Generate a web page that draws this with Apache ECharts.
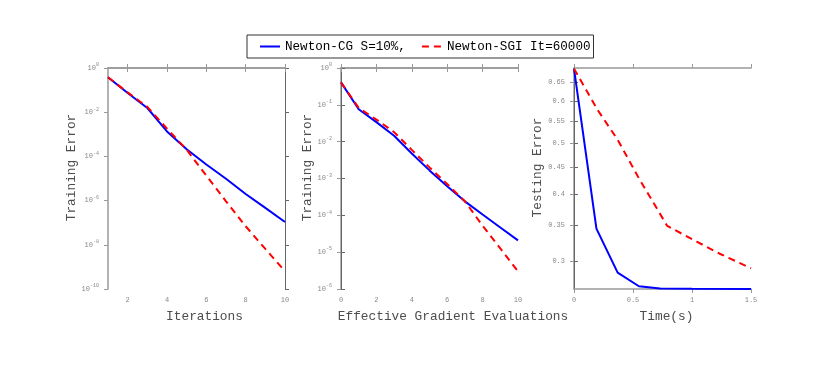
<!DOCTYPE html>
<html>
<head>
<meta charset="utf-8">
<script src="https://cdn.jsdelivr.net/npm/echarts@6/dist/echarts.min.js"></script>
<style>
html, body { margin: 0; padding: 0; background: #fff; }
#chart { width: 830px; height: 371px; }
</style>
</head>
<body>
<div id="chart"></div>
<script>
// panel 1: training error vs iterations
const iterX = [1, 2, 3, 4, 5, 6, 7, 8, 9, 10]
const cgIterErr = [3.8e-1, 7.4e-2, 1.55e-2, 1.35e-3, 2.1e-4, 4.3e-5, 9.8e-6, 2.0e-6, 4.7e-7, 1.07e-7]
const sgiIterErr = [3.8e-1, 7.9e-2, 1.74e-2, 1.8e-3, 2.0e-4, 1.35e-5, 9.3e-7, 6.9e-8, 6.5e-9, 6.3e-10]

// panel 2: training error vs effective gradient evaluations
const evalX = [0, 1, 2, 3, 4, 5, 6, 7, 8, 9, 10]
const cgEvalErr = [0.407, 0.0759, 0.0339, 0.01445, 4.79e-3, 1.66e-3, 6.17e-4, 2.4e-4, 1.05e-4, 4.68e-5, 2.09e-5]
const sgiEvalErr = [0.407, 0.083, 0.0398, 0.0182, 6.0e-3, 2.0e-3, 7.1e-4, 2.4e-4, 5.2e-5, 1.26e-5, 3.0e-6]

// panel 3: testing error vs time (s)
const cgTime = [0, 0.19, 0.37, 0.55, 0.73, 1.0, 1.5]
const cgTestErr = [0.69, 0.345, 0.285, 0.2687, 0.2662, 0.2657, 0.2655]
const sgiTime = [0, 0.2, 0.37, 0.55, 0.79, 1.04, 1.24, 1.5]
const sgiTestErr = [0.69, 0.577, 0.507, 0.429, 0.349, 0.326, 0.309, 0.2905]

// ticks
const iterTicks = [2, 4, 6, 8, 10]
const evalTicks = [0, 2, 4, 6, 8, 10]
const timeTicks = [0, 0.5, 1, 1.5]
const iterExpTicks = [0, -2, -4, -6, -8, -10]
const evalExpTicks = [0, -1, -2, -3, -4, -5, -6]
const testTicks = [0.3, 0.35, 0.4, 0.45, 0.5, 0.55, 0.6, 0.65]

const cgName = 'Newton-CG S=10%,'
const sgiName = 'Newton-SGI It=60000'

const mono = 'Liberation Mono'
const axisGrey = '#999'
const labelGrey = '#888'
const nameColor = '#4d4d4d'

const lg = v => Math.log10(v)
const pairs = (xs, ys) => xs.map((x, i) => [x, lg(ys[i])])

const powLabel = {
  formatter: v => '{b|10}{s|' + Math.round(v) + '}',
  rich: {
    b: { fontSize: 7, color: labelGrey, fontFamily: mono },
    s: { fontSize: 5, color: labelGrey, fontFamily: mono, padding: [0, 0, 6, 0] }
  }
}

function xAxes (gridIndex, min, max, ticks, name, shift) {
  return [{
    type: 'value', gridIndex, min, max, position: 'bottom',
    axisLine: { lineStyle: { color: axisGrey, width: 1.5 } },
    axisTick: { length: 4, customValues: ticks, lineStyle: { color: axisGrey } },
    axisLabel: { customValues: ticks, margin: 8, fontSize: 7, fontFamily: mono, color: labelGrey },
    splitLine: { show: false },
    name, nameLocation: 'middle', nameGap: 21,
    nameTextStyle: { fontFamily: mono, fontSize: 12.8, color: nameColor, padding: [0, 0, 0, shift] }
  }, {
    type: 'value', gridIndex, min, max, position: 'top',
    axisLine: { lineStyle: { color: axisGrey, width: 1.5 } },
    axisTick: { length: 4, customValues: ticks, lineStyle: { color: axisGrey } },
    axisLabel: { show: false },
    splitLine: { show: false }
  }]
}

function yAxes (gridIndex, min, max, ticks, label, name, gap) {
  return [{
    type: 'value', gridIndex, min, max, position: 'left',
    axisLine: { lineStyle: { color: axisGrey, width: 1.5 } },
    axisTick: { length: 4, customValues: ticks, lineStyle: { color: axisGrey } },
    axisLabel: Object.assign({ customValues: ticks, margin: 9, fontSize: 7, fontFamily: mono, color: labelGrey }, label),
    splitLine: { show: false },
    name, nameLocation: 'middle', nameGap: gap,
    nameTextStyle: { fontFamily: mono, fontSize: 12.8, color: nameColor, padding: [0, 0, 0, 22] }
  }, {
    type: 'value', gridIndex, min, max, position: 'right',
    axisLine: { lineStyle: { color: '#666', width: 1 } },
    axisTick: { length: 4, customValues: ticks, lineStyle: { color: '#666' } },
    axisLabel: { show: false },
    splitLine: { show: false }
  }]
}

function line (name, idx, data, color, dashed) {
  return {
    name, type: 'line', xAxisIndex: idx * 2, yAxisIndex: idx * 2,
    data, symbol: 'none', showSymbol: false,
    lineStyle: { color, width: 2, type: dashed ? [7, 5] : 'solid' },
    itemStyle: { color }
  }
}

const myChart = echarts.init(document.getElementById('chart'))
myChart.setOption({
  animation: false,
  backgroundColor: '#fff',
  legend: {
    data: [cgName, sgiName],
    left: 247, top: 35,
    padding: [5, 3, 5, 12],
    itemWidth: 20, itemHeight: 10, itemGap: 15,
    borderColor: '#333', borderWidth: 1,
    selectedMode: false,
    itemStyle: { opacity: 0 },
    textStyle: { fontFamily: mono, fontSize: 12.6, color: '#000' }
  },
  grid: [
    { left: 108, top: 68, width: 177, height: 221 },
    { left: 341, top: 68, width: 177, height: 221 },
    { left: 574, top: 68, width: 177, height: 221 }
  ],
  xAxis: [
    ...xAxes(0, 1, 10, iterTicks, 'Iterations', 16),
    ...xAxes(1, 0, 10, evalTicks, 'Effective Gradient Evaluations', 47),
    ...xAxes(2, 0, 1.5, timeTicks, 'Time(s)', 8)
  ],
  yAxis: [
    ...yAxes(0, -10, 0, iterExpTicks, powLabel, 'Training Error', 30),
    ...yAxes(1, -6, 0, evalExpTicks, powLabel, 'Training Error', 27),
    ...yAxes(2, lg(0.2655), lg(0.692), testTicks.map(lg), {
      formatter: v => String(Math.round(Math.pow(10, v) * 100) / 100)
    }, 'Testing Error', 27)
  ],
  series: [
    line(cgName, 0, pairs(iterX, cgIterErr), '#0000ff', false),
    line(sgiName, 0, pairs(iterX, sgiIterErr), '#ff0000', true),
    line(cgName, 1, pairs(evalX, cgEvalErr), '#0000ff', false),
    line(sgiName, 1, pairs(evalX, sgiEvalErr), '#ff0000', true),
    line(cgName, 2, pairs(cgTime, cgTestErr), '#0000ff', false),
    line(sgiName, 2, pairs(sgiTime, sgiTestErr), '#ff0000', true)
  ]
})
</script>
</body>
</html>
